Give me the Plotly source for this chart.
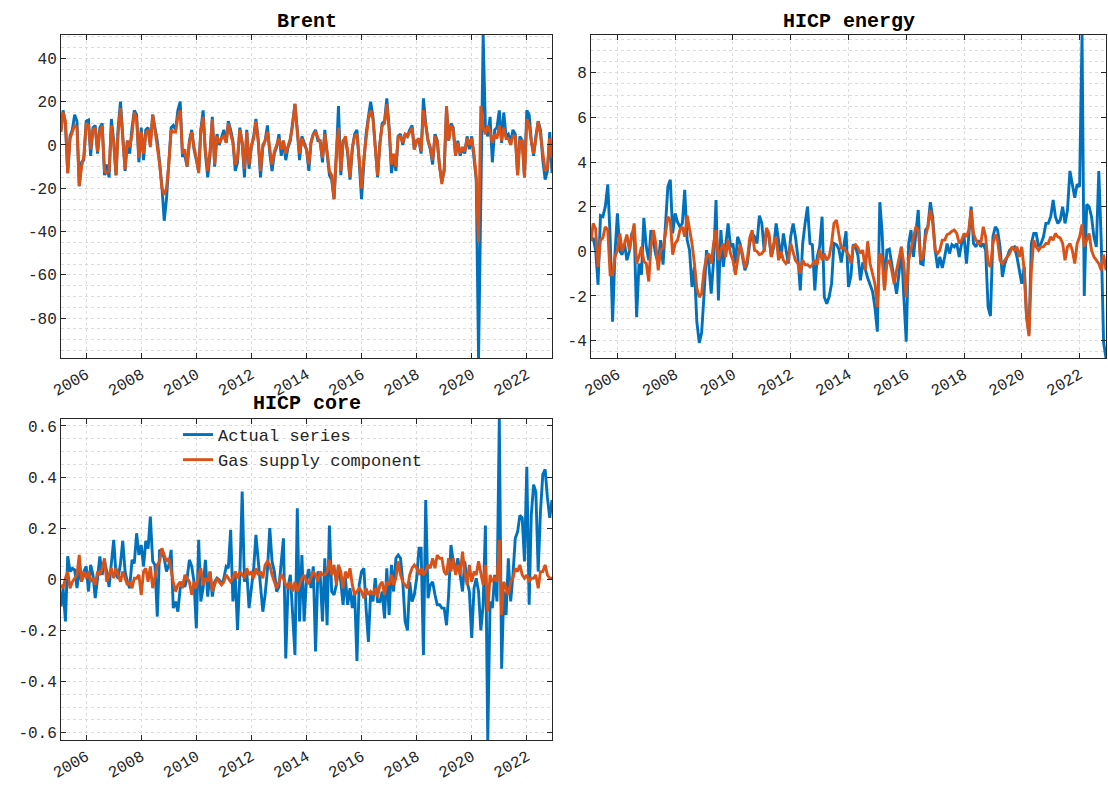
import pandas as pd
import plotly.graph_objects as go

# ---------------- data (monthly, Feb 2005 - Dec 2022) ----------------
dates = pd.date_range("2005-02-01", periods=215, freq="MS")

brent_actual = [
    7, 16, 10, -13, 4, 7, 14, 11, -19, -8, -7, 11, 11.5, -5, 8, 9, -4, 8, 10, -14,
    -9, -15, 12, 2, -14, 8, 20, 2, -12, 2, -4, 8, 16, 14, -8, 8, -7, 7, 8, 0,
    14, 8, 2, -8, -19, -35, -25, -8, 8, 9, 7, 16, 20, -5, -5, -10, 2, 7, -2, -7,
    -12, 7, 16, -4, -15, -5, 13, -10, 5, 0, 4, 7, 1, 11, 7, 2, -12, -8, 8, 1,
    -15, 7, -11, -1, 4, 12, 2, -15, -1, 2, 9, -4, -12, -4, -1, 5, -5, 2, -7, -1,
    2, 11, 19, 7, -7, 4, 1, -2, -12, 1, 5, 7, 2, 2, -8, 7, -4, -14, -16, -25,
    -5, 18, -14, 2, 3, -4, -16, -2, 5, 7, -8, -25, -8, 5, 13, 20, 13, -1, -15, 1,
    10, 11, 21.5, 8, -13, -5, -12, 4, 5, 0, 5, 4, 7, 9, -2, 2, 2, -4, 21.5, 10,
    2, -2, -9, 5, 2, -10, -17, -12, 17, 2, 10, 8, -5, 2, -5, -1, -4, 4, -2, 4,
    -5, -16, -98.4, -24, 50.8, 8, 4, 13, -8, 7, 8, 16, 1, 15, 4, 5, 1, 7, 5, -14,
    4, 2, -15, 16, 14, 2, -5, 4, 11, 7, -7, -16, -12, 6, -13,
]
brent_gas = [
    6, 15, 11, -13, 3, 6, 9, 8, -19, -10, -5, 10, 9, -2, 7, 8, -3, 6, 9, -12,
    -13, -12, 9, 1, -14, 6, 17, 3, -11, 2, -1, 5, 15, 12, -6, 6, -4, 5, 7, -1,
    14, 7, 0, -9, -20, -23, -20, -9, 7, 6, 6, 13, 16, -4, -2, -10, 1, 6, -1, -6,
    -13, 6, 13, -3, -12, -3, 12, -9, 4, 1, 3, 4, 1, 10, 5, 1, -9, -6, 7, 1,
    -11, 6, -9, 0, 3, 11, 2, -12, 0, 2, 6, -3, -9, -3, 0, 3, -2, 2, -4, 0,
    3, 9, 19, 6, -4, 3, 0, -2, -9, 1, 5, 6, 3, 1, -6, 5, -3, -12, -14, -25,
    -3, 8, -12, 1, 4, -3, -15, -1, 4, 5, -6, -20, -6, 4, 12, 16, 12, -1, -14, 1,
    9, 10, 19, 7, -9, -4, -10, 4, 4, 1, 5, 4, 6, 8, -2, 2, 3, -3, 16, 8,
    2, -1, -7, 4, 2, -10, -18, -11, 18, 2, 9, 7, -5, 1, -4, -1, -3, 3, 0, 3,
    -4, -15, -45, 18, 8, 5, 9, 6, 1, 5, 3, 9, 2, 8, 3, 3, 0, 4, 4, -14,
    2, 2, -15, 12, 9, 2, -4, 3, 11, 5, -5, -12, -11, 3, -6,
]

energy_actual = [
    0.5, 0.6, 0.05, -1.5, 1.6, 1.55, 2.0, 3.0, 0.65, -3.15, -0.1, 1.7, 0.0, -0.15, 0.35, -0.4, 0.0, 0.8, 0.95, -2.95,
    -0.55, -1.05, 1.5, 0.2, -0.4, 0.95, 0.45, -0.15, -0.55, 0.5, -0.6, 1.5, 2.9, 3.2, 0.8, 1.7, 1.3, 1.1, 1.25, 2.75,
    0.5, 0.05, -1.6, -0.7, -3.15, -4.1, -3.65, -1.9, 0.05, -0.55, -1.9, -0.4, 2.3, -2.2, 0.95, -0.7, 0.35, 1.25, 0.2, 0.35,
    -0.55, 0.65, 0.35, -0.3, -0.85, -0.55, 0.35, 0.8, 0.65, 0.35, 1.6, 1.25, 0.0, 0.95, 0.65, -0.25, 0.2, 1.25, 0.35, -0.3,
    0.8, 0.2, -0.55, 0.65, 1.25, 0.65, -0.25, -1.75, 0.35, 1.25, 2.0, 0.35, 0.3, -1.75, -0.25, 0.2, 1.55, -2.05, -2.35, -2.05,
    -1.45, 0.35, 0.3, 0.1, -0.5, 0.2, 0.9, -1.6, -1.1, 0.3, 0.2, -0.2, -1.3, -0.5, -0.8, -1.2, -1.5, -1.8, -2.5, -3.6,
    2.2, 0.9, -1.7, 0.05, 0.1, -0.5, -1.1, -1.9, -1.0, 0.2, -2.0, -4.05, 0.35, 0.95, -0.25, 0.65, 1.85, -0.55, -0.6, 0.95,
    1.1, 2.2, 1.5, 0.05, -0.75, -0.25, -0.75, -0.25, 0.35, -0.1, 0.3, 0.2, 0.35, -0.25, 0.35, 0.65, -0.55, 0.65, 2.0, 0.35,
    0.2, 0.5, 0.2, 0.35, 0.05, -2.5, -2.9, 0.65, 1.1, 0.95, 0.2, -1.15, -0.55, -0.25, 0.05, 0.15, 0.2, -0.25, -0.85, -1.45,
    -0.7, -2.9, -3.7, 0.35, 0.8, 0.8, 0.2, 0.35, 0.65, 1.25, 1.25, 1.55, 2.3, 1.55, 1.25, 1.4, 2.0, 1.25, 1.85, 3.6,
    3.0, 2.4, 3.0, 2.9, 9.69, -2.0, 2.1, 2.0, 1.55, 0.65, 0.2, 3.6, 0.5, -4.1, -4.78,
]
energy_gas = [
    0.45, 1.25, 1.0, -0.7, 0.5, 0.6, 1.1, 0.95, -1.05, -1.05, -0.25, 0.05, 0.8, 0.0, 0.35, 0.75, 0.05, 0.6, 1.25, -0.55,
    -0.25, 0.2, -0.45, -0.55, -1.35, 0.2, 0.95, 0.35, -0.85, 0.05, 0.15, 0.8, 1.55, 1.35, -0.15, 0.35, 0.5, 0.95, 1.1, 0.65,
    1.6, 1.0, 0.35, -0.55, -1.65, -2.05, -1.9, -0.85, -0.25, -0.1, -0.55, 0.35, 0.95, -0.4, 0.05, 0.35, -0.25, 0.5, -0.1, -0.4,
    -1.05, -0.4, 0.3, -0.1, -0.75, -0.4, 0.6, 0.95, 0.05, 0.0, -0.15, -0.1, 0.05, 1.05, 0.8, -0.25, 0.35, 0.65, -0.4, 0.0,
    -0.4, -0.55, -0.4, 0.35, -0.1, -0.4, -0.55, -1.0, -0.4, -0.6, -0.6, -0.7, -0.6, -0.4, -0.6, 0.05, -0.4, -0.1, -0.4, -0.25,
    0.35, 1.25, 1.4, 0.65, 0.15, 0.15, 0.0, -0.15, -0.55, 0.2, 0.3, 0.15, -0.1, 0.05, -0.85, 0.45, -0.55, -1.0, -1.45, -2.5,
    -0.1, -0.25, -1.75, -0.55, -0.4, -0.85, -1.45, -0.85, -0.4, 0.2, -0.55, -2.05, -0.4, 0.05, 0.65, 1.1, 0.95, -0.4, -0.25, 0.65,
    1.1, 1.85, 1.25, 0.05, -0.1, 0.05, 0.5, 0.5, 0.75, 0.8, 0.9, 0.95, 0.8, 0.35, 0.5, 0.8, 0.65, 0.95, 1.85, 0.8,
    0.5, 0.35, 0.35, 1.1, 0.65, -0.55, -0.7, 0.35, 0.75, 0.5, -0.4, -0.55, -0.4, -0.25, -0.1, 0.2, 0.05, 0.2, -0.25, 0.2,
    -0.85, -2.9, -3.8, -0.85, 0.5, 0.2, 0.05, 0.2, 0.2, 0.35, 0.35, 0.65, 0.5, 0.8, 0.65, 0.6, 0.35, -0.4, 0.2, 0.35,
    0.05, -0.55, 0.35, 0.65, 1.2, 0.2, 0.5, 0.8, 0.05, -0.25, -0.4, -0.55, -0.85, -0.15, -0.85,
]

core_actual = [
    -0.107, -0.035, -0.165, 0.09, 0.03, 0.043, 0.037, -0.035, 0.037, -0.01, 0.03, 0.05, -0.048, 0.056, 0.017, -0.074, 0.004, 0.089, 0.017, 0.07,
    0.03, -0.03, 0.062, 0.154, 0.017, 0.004, 0.062, 0.15, 0.03, -0.01, -0.035, 0.076, 0.062, 0.18, 0.095, 0.134, 0.05, 0.15, 0.12, 0.245,
    0.07, 0.056, -0.146, 0.115, 0.108, 0.082, 0.03, 0.056, 0.115, -0.113, -0.087, -0.127, -0.035, -0.01, -0.03, 0.004, 0.076, 0.05, -0.01, -0.192,
    0.154, -0.087, -0.035, 0.076, -0.068, 0.03, -0.068, -0.01, 0.004, -0.003, -0.022, 0.004, 0.05, 0.043, 0.193, -0.087, 0.017, -0.198, 0.017, 0.343,
    -0.01, 0.03, -0.113, -0.022, 0.043, 0.174, 0.07, -0.035, -0.127, -0.061, 0.037, 0.2, 0.07, 0.03, -0.048, -0.03, 0.082, 0.16, -0.31, -0.03,
    0.017, -0.165, -0.296, 0.278, -0.165, 0.095, -0.165, 0.0, 0.04, -0.035, 0.05, -0.283, 0.03, 0.017, -0.165, 0.082, -0.18, 0.21, -0.048, -0.061,
    -0.022, 0.056, -0.01, -0.1, 0.004, -0.1, -0.035, -0.113, -0.048, -0.32, -0.022, 0.03, 0.043, -0.113, -0.245, -0.048, -0.087, 0.004, -0.087, -0.087,
    -0.048, -0.153, 0.043, -0.14, 0.056, -0.048, 0.082, 0.095, 0.082, -0.01, -0.165, -0.2, -0.01, -0.087, -0.061, 0.004, 0.121, 0.121, -0.296, 0.31,
    -0.074, -0.022, -0.01, -0.061, -0.1, -0.1, -0.113, -0.113, -0.18, -0.061, 0.134, 0.07, 0.03, 0.082, 0.017, -0.048, 0.07, -0.01, -0.048, -0.23,
    -0.035, 0.004, -0.048, -0.2, -0.1, 0.21, -0.629, -0.087, -0.113, 0.017, -0.087, 0.627, -0.35, -0.048, -0.14, 0.082, -0.087, 0.017, 0.16, 0.186,
    0.25, 0.24, 0.07, 0.44, -0.1, 0.25, 0.37, 0.34, 0.03, 0.265, 0.41, 0.43, 0.32, 0.24, 0.31,
]
core_gas = [
    -0.022, -0.035, 0.004, 0.03, -0.035, -0.01, 0.004, 0.017, 0.095, -0.01, 0.03, 0.004, 0.03, -0.01, 0.004, -0.022, 0.03, 0.017, 0.043, 0.082,
    -0.01, 0.017, 0.043, 0.004, 0.043, 0.017, -0.01, 0.03, 0.004, -0.022, -0.01, -0.035, 0.004, 0.004, 0.017, -0.061, 0.03, 0.043, -0.01, 0.05,
    -0.035, 0.017, 0.056, 0.07, 0.121, 0.095, 0.07, 0.082, 0.03, -0.01, -0.048, -0.022, -0.01, -0.035, 0.017, 0.004, -0.01, -0.061, -0.01, -0.035,
    0.017, 0.043, -0.022, 0.004, -0.01, 0.03, -0.048, -0.022, 0.004, -0.01, -0.022, -0.01, 0.017, 0.004, -0.01, 0.004, 0.03, 0.004, 0.03, 0.017,
    0.004, 0.043, 0.017, 0.03, 0.004, 0.043, 0.017, 0.03, 0.004, 0.056, 0.07, 0.056, 0.017, -0.01, -0.035, -0.01, 0.017, 0.004, -0.022, -0.035,
    -0.01, -0.048, -0.01, -0.048, -0.022, 0.004, 0.017, -0.01, -0.016, 0.004, 0.03, 0.017, -0.01, 0.03, 0.017, 0.017, 0.03, 0.076, 0.017, 0.056,
    -0.022, 0.056, 0.03, -0.035, 0.03, 0.004, 0.043, -0.022, -0.061, -0.048, -0.035, -0.048, -0.074, -0.035, -0.061, -0.048, -0.061, -0.035, -0.068, -0.022,
    -0.01, -0.061, -0.01, -0.022, 0.017, -0.022, 0.004, 0.07, 0.017, -0.01, -0.022, -0.035, 0.017, 0.043, 0.056, 0.043, 0.017, 0.043, 0.017, 0.03,
    0.056, 0.043, 0.082, 0.043, 0.095, 0.082, 0.082, 0.03, 0.017, 0.082, 0.03, 0.082, 0.017, 0.056, 0.017, 0.108, 0.03, -0.022, 0.056, -0.01,
    0.03, 0.017, 0.07, 0.03, -0.022, 0.056, -0.127, 0.017, -0.01, 0.004, -0.01, 0.154, -0.14, -0.01, -0.035, -0.061, -0.01, 0.004, 0.043, 0.03,
    0.056, 0.017, 0.004, 0.017, -0.01, 0.004, 0.004, 0.017, -0.035, 0.03, 0.03, 0.056, 0.017, 0.004, 0.004,
]

year_ticks = ["2006-01-01", "2008-01-01", "2010-01-01", "2012-01-01", "2014-01-01",
              "2016-01-01", "2018-01-01", "2020-01-01", "2022-01-01"]
year_labels = ["2006", "2008", "2010", "2012", "2014", "2016", "2018", "2020", "2022"]

brent_ticks = [40, 20, 0, -20, -40, -60, -80]
brent_labels = ["40", "20", "0", "-20", "-40", "-60", "-80"]
energy_ticks = [8, 6, 4, 2, 0, -2, -4]
energy_labels = ["8", "6", "4", "2", "0", "-2", "-4"]
core_ticks = [0.6, 0.4, 0.2, 0, -0.2, -0.4, -0.6]
core_labels = ["0.6", "0.4", "0.2", "0", "-0.2", "-0.4", "-0.6"]

titles = ["Brent", "HICP energy", "HICP core"]
legend_names = ["Actual series", "Gas supply component"]

# ---------------- styling ----------------
BLUE = "#0072BD"
ORANGE = "#D95319"
AXC = "#262626"
GRID = "#dcdcdc"
FONT = "Courier New, Liberation Mono, monospace"
W, H = 1108, 787
LW = 2.9

fig = go.Figure()

panels = [
    (brent_actual, brent_gas, "x", "y", False),
    (energy_actual, energy_gas, "x2", "y2", False),
    (core_actual, core_gas, "x3", "y3", True),
]
for act, gas, xa, ya, leg in panels:
    fig.add_trace(go.Scatter(x=dates, y=act, mode="lines", name=legend_names[0],
                             line=dict(color=BLUE, width=LW), xaxis=xa, yaxis=ya,
                             showlegend=leg))
    fig.add_trace(go.Scatter(x=dates, y=gas, mode="lines", name=legend_names[1],
                             line=dict(color=ORANGE, width=LW), xaxis=xa, yaxis=ya,
                             showlegend=leg))


def xax(domain, anchor):
    return dict(domain=domain, anchor=anchor, type="date", automargin=False,
                range=[dates[0], dates[-1]],
                tickvals=year_ticks, ticktext=year_labels, tickangle=-30,
                ticks="inside", ticklen=5, tickcolor=AXC,
                showline=True, linecolor=AXC, linewidth=1, mirror="ticks",
                showgrid=True, gridcolor=GRID, griddash="dot", gridwidth=1,
                zeroline=False,
                tickfont=dict(family=FONT, size=16, color=AXC))


def yax(domain, anchor, rng, tv, tt, minor_dt):
    return dict(domain=domain, anchor=anchor, range=rng, automargin=False,
                tickvals=tv, ticktext=tt,
                ticks="inside", ticklen=5, tickcolor=AXC,
                showline=True, linecolor=AXC, linewidth=1, mirror="ticks",
                showgrid=True, gridcolor=GRID, griddash="dot", gridwidth=1,
                minor=dict(dtick=minor_dt, tick0=0, showgrid=True, gridcolor=GRID,
                           griddash="dot", gridwidth=1, ticks=""),
                zeroline=False,
                tickfont=dict(family=FONT, size=16, color=AXC))


xl = [61 / W, 552 / W]
xr = [591 / W, 1106 / W]
yt = [1 - 358 / H, 1 - 35 / H]
yb = [1 - 740 / H, 1 - 419 / H]

fig.update_layout(
    width=W, height=H,
    margin=dict(l=0, r=0, t=0, b=0, autoexpand=False),
    paper_bgcolor="white", plot_bgcolor="white",
    xaxis=xax(xl, "y"),
    yaxis=yax(yt, "x", [-98.4, 50.8], brent_ticks, brent_labels, 5),
    xaxis2=xax(xr, "y2"),
    yaxis2=yax(yt, "x2", [-4.78, 9.69], energy_ticks, energy_labels, 0.5),
    xaxis3=xax(xl, "y3"),
    yaxis3=yax(yb, "x3", [-0.629, 0.627], core_ticks, core_labels, 0.05),
    showlegend=True,
    legend=dict(x=178 / W, y=1 - 417 / H, xanchor="left", yanchor="top",
                bgcolor="rgba(0,0,0,0)", borderwidth=0, itemwidth=30,
                tracegroupgap=0,
                font=dict(family=FONT, size=17, color=AXC)),
)

title_pos = [(306.5, 21), (848.5, 21), (306.5, 404)]
for t, (px, py) in zip(titles, title_pos):
    fig.add_annotation(text="<b>" + t + "</b>", x=px / W, y=1 - py / H,
                       xref="paper", yref="paper", showarrow=False,
                       xanchor="center", yanchor="middle",
                       font=dict(family=FONT, size=20, color="black"))

fig.write_html("out.html")
